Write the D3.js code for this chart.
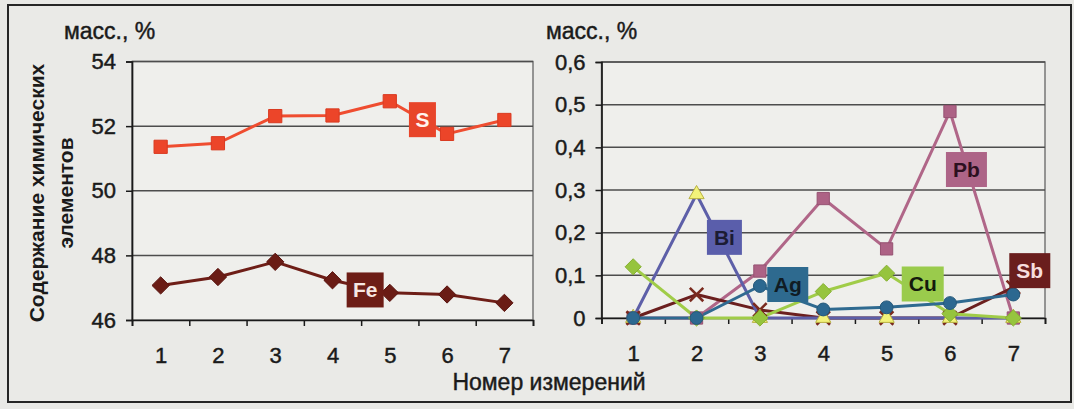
<!DOCTYPE html>
<html>
<head>
<meta charset="utf-8">
<script src="https://cdn.jsdelivr.net/npm/d3@7"></script>
<style>
  html, body { margin: 0; padding: 0; background: #e9e9e6; }
  svg { display: block; font-family: "Liberation Sans", Arial, sans-serif; }
</style>
</head>
<body>
<svg id="chart" width="1074" height="409"></svg>
<script>
// Measurement numbers (x axis categories)
const measurements = [1, 2, 3, 4, 5, 6, 7];

// Major elements, mass %
const sulfur = [51.36, 51.47, 52.31, 52.33, 52.77, 51.76, 52.19];
const iron   = [47.07, 47.33, 47.80, 47.23, 46.84, 46.79, 46.53];

// Trace elements, mass %
const lead     = [0, 0, 0.11, 0.28, 0.162, 0.484, 0];
const antimony = [0, 0.055, 0.019, 0, 0, 0, 0.072];
const bismuth  = [0, 0.29, 0, 0, 0, 0, 0];
const copper   = [0.12, 0, 0, 0.062, 0.105, 0.01, 0];
const silver   = [0, 0, 0.075, 0.02, 0.025, 0.035, 0.055];

// Axis ticks
const majorTicks = [46, 48, 50, 52, 54];
const traceTicks = [0, 0.1, 0.2, 0.3, 0.4, 0.5, 0.6];

const svg = d3.select("#chart");
const ink = "#1a1a1a";
const gridColor = "#4d4d4d";
const commaFmt = v => String(+v.toFixed(1)).replace(".", ",");

// rotated square marker (Excel-style diamond)
const symbolRhomb = {
  draw(ctx, size) {
    const r = Math.sqrt(size / 2);
    ctx.moveTo(0, -r); ctx.lineTo(r, 0); ctx.lineTo(0, r); ctx.lineTo(-r, 0); ctx.closePath();
  }
};

// outer frame
svg.append("rect")
  .attr("x", 8).attr("y", 5).attr("width", 1063).attr("height", 397)
  .attr("fill", "#eaeae7").attr("stroke", "#262626").attr("stroke-width", 2);

function styleText(sel, size) {
  sel.attr("fill", ink).attr("font-size", size)
    .attr("font-family", "Liberation Sans, Arial, sans-serif")
    .attr("stroke", ink).attr("stroke-width", 0.45);
}

function panel(cfg) {
  const x = d3.scaleLinear().domain([0.5, measurements.length + 0.5]).range([cfg.left, cfg.right]);
  const y = d3.scaleLinear().domain(cfg.domain).range([cfg.bottom, cfg.top]);
  const g = svg.append("g");

  // plot box
  g.append("rect")
    .attr("x", cfg.left).attr("y", cfg.top)
    .attr("width", cfg.right - cfg.left).attr("height", cfg.bottom - cfg.top)
    .attr("fill", "#efefec").attr("stroke", "#6e6e6e").attr("stroke-width", 1.4);

  // horizontal grid
  g.append("g").selectAll("line").data(cfg.ticks.slice(1)).join("line")
    .attr("x1", cfg.left).attr("x2", cfg.right)
    .attr("y1", d => y(d)).attr("y2", d => y(d))
    .attr("stroke", gridColor).attr("stroke-width", 1.5);

  // y axis
  const ya = g.append("g").attr("transform", `translate(${cfg.left},0)`)
    .call(d3.axisLeft(y).tickValues(cfg.ticks).tickSize(6).tickPadding(10).tickFormat(cfg.fmt));
  ya.select(".domain").attr("stroke", ink).attr("stroke-width", 1.7);
  ya.selectAll(".tick line").attr("stroke", ink).attr("stroke-width", 1.5);
  styleText(ya.selectAll("text"), 22);

  // x axis: boundary tick marks and centred labels
  const xb = g.append("g").attr("transform", `translate(0,${cfg.bottom})`)
    .call(d3.axisBottom(x).tickValues(d3.range(0.5, measurements.length + 1, 1)).tickSize(6).tickFormat(""));
  xb.select(".domain").attr("stroke", ink).attr("stroke-width", 1.7);
  xb.selectAll(".tick line").attr("stroke", ink).attr("stroke-width", 1.5);
  const xl = g.append("g").attr("transform", `translate(0,${cfg.bottom})`)
    .call(d3.axisBottom(x).tickValues(measurements).tickSize(0).tickPadding(27).tickFormat(d3.format("d")));
  xl.select(".domain").remove();
  styleText(xl.selectAll("text"), 22);

  // unit caption
  styleText(g.append("text").attr("x", cfg.unitX).attr("y", 39).text("масс., %"), 23);

  const line = d3.line().x((d, i) => x(measurements[i])).y(d => y(d));

  cfg.series.forEach(s => {
    g.append("path").datum(s.values)
      .attr("d", line).attr("fill", "none")
      .attr("stroke", s.color).attr("stroke-width", 3).attr("stroke-linejoin", "round");
  });
  cfg.series.forEach(s => {
    const sym = d3.symbol().type(s.symbol).size(s.size);
    g.append("g").selectAll("path").data(s.values).join("path")
      .attr("transform", (d, i) => `translate(${x(measurements[i])},${y(d)})`)
      .attr("d", sym())
      .attr("fill", s.symbol === d3.symbolX ? "none" : s.markerFill)
      .attr("stroke", s.markerStroke).attr("stroke-width", s.symbol === d3.symbolX ? 2.6 : 1);
  });

  // element tags
  cfg.tags.forEach(t => {
    const cx = x(t.at[0]), cy = y(t.at[1]);
    g.append("rect")
      .attr("x", cx - t.w / 2).attr("y", cy - 17.5).attr("width", t.w).attr("height", 35)
      .attr("fill", t.fill);
    g.append("text").attr("x", cx).attr("y", cy + 7.5)
      .attr("text-anchor", "middle").attr("font-size", 21).attr("font-weight", "bold")
      .attr("fill", t.text).text(t.name);
  });
  return { x, y };
}

panel({
  left: 132, right: 533, top: 61.5, bottom: 320,
  domain: [46, 54], ticks: majorTicks, fmt: d3.format("d"), unitX: 64,
  series: [
    { values: sulfur, color: "#ef4d30", symbol: d3.symbolSquare, size: 175, markerFill: "#ec4529", markerStroke: "#d93a20" },
    { values: iron, color: "#6e1e17", symbol: symbolRhomb, size: 150, markerFill: "#6a1c15", markerStroke: "#5a140f" }
  ],
  tags: [
    { name: "S", at: [5.57, 52.2], w: 27, fill: "#e8452a", text: "#fff3ee" },
    { name: "Fe", at: [4.57, 46.93], w: 37, fill: "#6d1d16", text: "#f6e6e2" }
  ]
});

panel({
  left: 601.5, right: 1045, top: 62, bottom: 318,
  domain: [0, 0.6], ticks: traceTicks, fmt: commaFmt, unitX: 546,
  series: [
    { values: lead, color: "#b06688", symbol: d3.symbolSquare, size: 150, markerFill: "#ad6285", markerStroke: "#965272" },
    { values: antimony, color: "#6b1f1e", symbol: d3.symbolX, size: 120, markerFill: "none", markerStroke: "#7a2a1e" },
    { values: bismuth, color: "#5d5fa8", symbol: d3.symbolTriangle, size: 100, markerFill: "#f2f27a", markerStroke: "#b8b040" },
    { values: copper, color: "#a0cc48", symbol: symbolRhomb, size: 130, markerFill: "#96c43e", markerStroke: "#86b030" },
    { values: silver, color: "#2f6a90", symbol: d3.symbolCircle, size: 130, markerFill: "#2c6890", markerStroke: "#24587a" }
  ],
  tags: [
    { name: "Bi", at: [2.44, 0.189], w: 35, fill: "#5a5eab", text: "#1c1c34" },
    { name: "Ag", at: [3.44, 0.0785], w: 41, fill: "#2e6a8f", text: "#101c24" },
    { name: "Pb", at: [6.26, 0.348], w: 41, fill: "#ad6487", text: "#2c1020" },
    { name: "Cu", at: [5.57, 0.0797], w: 42, fill: "#9acb4c", text: "#141a0c" },
    { name: "Sb", at: [7.26, 0.111], w: 41, fill: "#6a1e1d", text: "#f6dede" }
  ]
});

// y axis title (two lines, rotated)
const yTitle = svg.append("text")
  .attr("transform", "translate(0,193) rotate(-90)")
  .attr("text-anchor", "middle").attr("font-size", 21).attr("font-weight", "bold").attr("fill", ink);
yTitle.append("tspan").attr("x", 0).attr("y", 44).text("Содержание химических");
yTitle.append("tspan").attr("x", 0).attr("y", 73).text("элементов");

// x axis title
styleText(svg.append("text").attr("x", 549).attr("y", 390)
  .attr("text-anchor", "middle").text("Номер измерений"), 23);
</script>
</body>
</html>
